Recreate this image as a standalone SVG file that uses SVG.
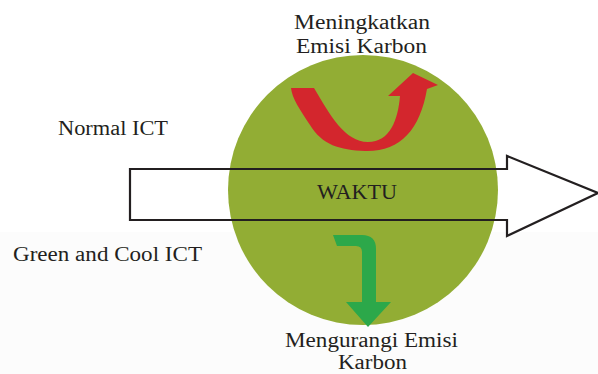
<svg xmlns="http://www.w3.org/2000/svg" width="598" height="374" viewBox="0 0 598 374">
<style>
.t{font-family:"Liberation Serif","DejaVu Serif",serif;font-size:20px;fill:#231f20}
</style>
<rect x="0" y="0" width="598" height="374" fill="#ffffff"/>
<rect x="0" y="232" width="598" height="142" fill="#fcfcfc"/>
<g id="circle">
<circle cx="363" cy="190" r="135" fill="#92ad34"/>
</g>
<g id="red-arrow">
<path d="M291,88 L314,88 C330,115 345,142 368,142 C390,142 398,120 400,96 L388,96 L413,73 L438,85 L427,89 C420,130 400,152 365,151 C340,150 322,145 310,125 C300,110 292,98 291,88 Z" fill="#d3262d"/>
</g>
<g id="green-arrow">
<path d="M333,235 L362,235 Q376,235 376,249 L376,302 L391,302 L368,327 L346,302 L362,302 L362,252 Q362,246 356,246 L337,246 Z" fill="#2ca84a"/>
</g>
<g id="connectors">
<path d="M130,169 L507,169 L507,156 L598,193 L507,236 L507,220 L130,220 Z" fill="none" stroke="#231f20" stroke-width="2.2" stroke-linejoin="miter"/>
</g>
<g id="labels">
<text class="t" x="294" y="29" textLength="136" lengthAdjust="spacingAndGlyphs">Meningkatkan</text>
<text class="t" x="296" y="53" textLength="131" lengthAdjust="spacingAndGlyphs">Emisi Karbon</text>
<text class="t" x="58" y="135" textLength="110" lengthAdjust="spacingAndGlyphs">Normal ICT</text>
<text class="t" x="317" y="199" textLength="80" lengthAdjust="spacingAndGlyphs">WAKTU</text>
<text class="t" x="13" y="261" textLength="189" lengthAdjust="spacingAndGlyphs">Green and Cool ICT</text>
<text class="t" x="285" y="347" textLength="173" lengthAdjust="spacingAndGlyphs">Mengurangi Emisi</text>
<text class="t" x="338" y="369" textLength="69" lengthAdjust="spacingAndGlyphs">Karbon</text>
</g>
</svg>
